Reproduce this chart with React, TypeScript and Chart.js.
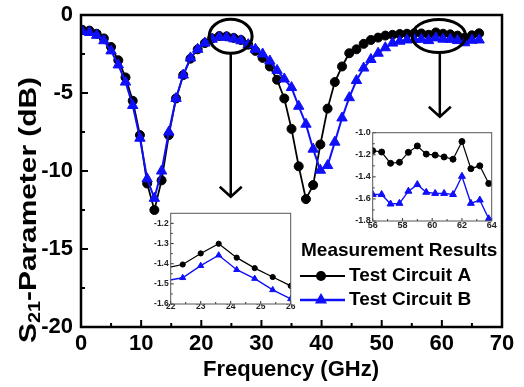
import React, { useEffect, useRef } from "react";
import { Chart, registerables } from "chart.js";
Chart.register(...registerables);

const FONT = '"Liberation Sans", Arial, sans-serif';
const BLUE = "rgb(15,15,250)";
const BLACK = "#000000";

// ---- main chart data ----
const freqGHz = [
  0.2, 1.4, 2.6, 3.8, 5.0, 6.2, 7.4, 8.6, 9.8, 11.0, 12.2, 13.4, 14.6, 15.8,
  17.0, 18.2, 19.4, 20.6, 21.8, 23.0, 24.2, 25.4, 26.6, 27.8, 29.0, 30.2, 31.4,
  32.6, 33.8, 35.0, 36.2, 37.4, 38.6, 39.8, 41.0, 42.2, 43.4, 44.6, 45.8, 47.0,
  48.2, 49.4, 50.6, 51.8, 53.0, 54.2, 55.4, 56.6, 57.8, 59.0, 60.2, 61.4, 62.6,
  63.8, 65.0, 66.2,
];
const circuitA = [
  -0.95, -1.0, -1.2, -1.5, -2.05, -2.9, -4.0, -5.5, -7.7, -10.8, -12.5, -10.6,
  -7.7, -5.35, -3.85, -2.8, -2.2, -1.8, -1.5, -1.35, -1.37, -1.47, -1.6, -1.9,
  -2.3, -2.75, -3.3, -4.15, -5.35, -7.3, -9.7, -11.8, -10.9, -8.3, -6.0, -4.3,
  -3.3, -2.45, -2.2, -1.85, -1.6, -1.45, -1.32, -1.27, -1.22, -1.2, -1.18,
  -1.18, -1.27, -1.12, -1.2, -1.24, -1.32, -1.46, -1.3, -1.17,
];
const circuitB = [
  -1.05, -1.12, -1.3, -1.65, -2.3, -3.2, -4.3, -5.8, -7.9, -10.5, -11.75, -10.0,
  -7.5, -5.35, -3.85, -2.75, -2.2, -1.8, -1.55, -1.41, -1.43, -1.53, -1.65, -1.9,
  -2.2, -2.5, -2.95, -3.55, -4.1, -4.65, -5.85, -7.0, -8.6, -9.95, -9.65, -8.15,
  -6.6, -5.3, -4.2, -3.4, -2.85, -2.45, -2.1, -1.8, -1.68, -1.6, -1.57, -1.56,
  -1.64, -1.47, -1.55, -1.56, -1.64, -1.78, -1.62, -1.6,
];
const xTicksMain = [0, 10, 20, 30, 40, 50, 60, 70];
const xMinorMain = [5, 15, 25, 35, 45, 55, 65];
const yTicksMain = [0, -5, -10, -15, -20];
const yMinorMain = [-2.5, -7.5, -12.5, -17.5];

// ---- inset 1 (22-26 GHz) ----
const inset1Freq = [21.8, 22.4, 23.0, 23.6, 24.2, 24.8, 25.4, 26.0];
const inset1A = [-1.422, -1.404, -1.349, -1.301, -1.37, -1.422, -1.466, -1.51];
const inset1B = [-1.485, -1.47, -1.41, -1.358, -1.43, -1.474, -1.53, -1.575];
const inset1XTicks = [22, 23, 24, 25, 26];
const inset1XMinor = [22.5, 23.5, 24.5, 25.5];
const inset1YTicks = [-1.2, -1.3, -1.4, -1.5, -1.6];
const inset1YMinor = [-1.25, -1.35, -1.45, -1.55];

// ---- inset 2 (56-64 GHz) ----
const inset2Freq = [56, 56.6, 57.2, 57.8, 58.4, 59.0, 59.6, 60.2, 60.8, 61.4, 62.0, 62.6, 63.2, 63.8];
const inset2A = [-1.163, -1.175, -1.277, -1.268, -1.178, -1.12, -1.194, -1.203, -1.22, -1.24, -1.08, -1.326, -1.3, -1.46];
const inset2B = [-1.56, -1.56, -1.646, -1.64, -1.53, -1.47, -1.54, -1.55, -1.55, -1.56, -1.395, -1.64, -1.61, -1.78];
const inset2XTicks = [56, 58, 60, 62, 64];
const inset2XMinor = [57, 59, 61, 63];
const inset2YTicks = [-1.0, -1.2, -1.4, -1.6, -1.8];
const inset2YMinor = [-1.1, -1.3, -1.5, -1.7];

const legendTitle = "Measurement Results";
const seriesNames = ["Test Circuit A", "Test Circuit B"];
const xTitle = "Frequency (GHz)";
const yTitleParts = ["S", "21", "-Parameter (dB)"];

const framePlugin = {
  id: "frame",
  beforeDatasetsDraw(chart: any, _a: any, o: any) {
    const { ctx, chartArea: a } = chart;
    if (o.fill) {
      ctx.save();
      ctx.fillStyle = o.fill;
      ctx.fillRect(a.left, a.top, a.right - a.left, a.bottom - a.top);
      ctx.restore();
    }
  },
  afterDatasetsDraw(chart: any, _a: any, o: any) {
    const { ctx, chartArea: a, scales } = chart;
    const xs = scales.x;
    const ys = scales.y;
    ctx.save();
    ctx.strokeStyle = o.tickColor;
    ctx.lineWidth = o.tickWidth;
    ctx.beginPath();
    const xt = (vals: number[], len: number) => {
      for (const v of vals) {
        const p = xs.getPixelForValue(v);
        ctx.moveTo(p, a.bottom);
        ctx.lineTo(p, a.bottom - len);
      }
    };
    const yt = (vals: number[], len: number) => {
      for (const v of vals) {
        const p = ys.getPixelForValue(v);
        ctx.moveTo(a.left, p);
        ctx.lineTo(a.left + len, p);
      }
    };
    xt(o.xMajor, o.majorLen);
    xt(o.xMinor, o.minorLen);
    yt(o.yMajor, o.majorLen);
    yt(o.yMinor, o.minorLen);
    ctx.stroke();
    ctx.lineWidth = o.borderWidth;
    ctx.strokeStyle = o.borderColor;
    ctx.strokeRect(a.left, a.top, a.right - a.left, a.bottom - a.top);
    ctx.restore();
  },
};

function drawMarker(ctx: any, kind: string, x: number, y: number, r: number, color: string) {
  ctx.fillStyle = color;
  ctx.beginPath();
  if (kind === "circle") {
    ctx.arc(x, y, r, 0, Math.PI * 2);
  } else {
    ctx.moveTo(x, y - r);
    ctx.lineTo(x + r * 0.866, y + r * 0.5);
    ctx.lineTo(x - r * 0.866, y + r * 0.5);
    ctx.closePath();
  }
  ctx.fill();
}

const decorPlugin = {
  id: "decor",
  afterDraw(chart: any) {
    const { ctx, scales } = chart;
    const xs = scales.x;
    const ys = scales.y;
    ctx.save();
    // zoom ellipses and arrows
    const zooms = [
      { cx: 24.88, cy: -1.365, w: 7.14, h: 2.18, ax: 24.9, tip: -11.65 },
      { cx: 59.5, cy: -1.346, w: 8.92, h: 2.13, ax: 59.66, tip: -6.52 },
    ];
    ctx.strokeStyle = "#000";
    for (const z of zooms) {
      const cx = xs.getPixelForValue(z.cx);
      const cy = ys.getPixelForValue(z.cy);
      const rx = Math.abs(xs.getPixelForValue(z.cx + z.w / 2) - cx);
      const ry = Math.abs(ys.getPixelForValue(z.cy + z.h / 2) - cy);
      ctx.lineWidth = 3;
      ctx.beginPath();
      ctx.ellipse(cx, cy, rx, ry, 0, 0, Math.PI * 2);
      ctx.stroke();
      const ax = xs.getPixelForValue(z.ax);
      const tip = ys.getPixelForValue(z.tip);
      ctx.lineWidth = 2.5;
      ctx.beginPath();
      ctx.moveTo(ax, cy + ry);
      ctx.lineTo(ax, tip);
      ctx.moveTo(ax - 11, tip - 10);
      ctx.lineTo(ax, tip);
      ctx.lineTo(ax + 11, tip - 10);
      ctx.stroke();
    }
    // axis titles
    ctx.fillStyle = "#000";
    ctx.font = `bold 22px ${FONT}`;
    ctx.textAlign = "center";
    ctx.textBaseline = "middle";
    ctx.fillText(xTitle, 291, 370);

    ctx.save();
    ctx.translate(27, 210);
    ctx.rotate(-Math.PI / 2);
    ctx.textAlign = "left";
    ctx.textBaseline = "alphabetic";
    const big = `bold 24px ${FONT}`;
    const small = `bold 16px ${FONT}`;
    ctx.font = big;
    const w0 = ctx.measureText(yTitleParts[0]).width;
    const w2 = ctx.measureText(yTitleParts[2]).width;
    ctx.font = small;
    const w1 = ctx.measureText(yTitleParts[1]).width;
    const total = w0 + w1 + w2;
    const s = 266 / total;
    ctx.scale(s, 1);
    let x = -total / 2;
    ctx.font = big;
    ctx.fillText(yTitleParts[0], x, 8.5);
    x += w0;
    ctx.font = small;
    ctx.fillText(yTitleParts[1], x, 13);
    x += w1;
    ctx.font = big;
    ctx.fillText(yTitleParts[2], x, 8.5);
    ctx.restore();

    // legend
    ctx.textAlign = "left";
    ctx.textBaseline = "middle";
    ctx.font = `bold 19px ${FONT}`;
    ctx.fillStyle = "#000";
    ctx.fillText(legendTitle, 301, 251);
    const entries = [
      { name: seriesNames[0], color: BLACK, kind: "circle", y: 276, r: 5, lw: 2 },
      { name: seriesNames[1], color: BLUE, kind: "triangle", y: 300, r: 7, lw: 2.5 },
    ];
    for (const e of entries) {
      ctx.strokeStyle = e.color;
      ctx.lineWidth = e.lw;
      ctx.beginPath();
      ctx.moveTo(300, e.y);
      ctx.lineTo(345, e.y);
      ctx.stroke();
      drawMarker(ctx, e.kind, 321, e.y, e.r, e.color);
      ctx.fillStyle = "#000";
      ctx.fillText(e.name, 349, e.y);
    }
    ctx.restore();
  },
};

function pts(xs: number[], ys: number[]) {
  return xs.map((x, i) => ({ x, y: ys[i] }));
}

function noPad(s: any) {
  s.paddingTop = 0;
  s.paddingBottom = 0;
  s.paddingLeft = 0;
  s.paddingRight = 0;
}

function axes(o: any) {
  return {
    x: {
      type: "linear",
      min: o.xMin,
      max: o.xMax,
      afterBuildTicks: (s: any) => {
        s.ticks = o.xTicks.map((v: number) => ({ value: v }));
      },
      grid: { display: false, drawTicks: false },
      border: { display: false },
      ticks: {
        font: { family: FONT, size: o.fontSize, weight: "bold", lineHeight: o.lineHeight },
        color: o.tickColor,
        padding: o.xPad,
        maxRotation: 0,
        autoSkip: false,
        callback: (v: any) => o.xFmt(v),
      },
      afterFit: (s: any) => {
        s.height = o.xHeight;
        noPad(s);
      },
    },
    y: {
      type: "linear",
      min: o.yMin,
      max: o.yMax,
      afterBuildTicks: (s: any) => {
        s.ticks = o.yTicks.map((v: number) => ({ value: v }));
      },
      grid: { display: false, drawTicks: false },
      border: { display: false },
      ticks: {
        font: { family: FONT, size: o.fontSize, weight: "bold", lineHeight: o.lineHeight },
        color: o.tickColor,
        padding: o.yPad,
        autoSkip: false,
        callback: (v: any) => o.yFmt(v),
      },
      afterFit: (s: any) => {
        s.width = o.yWidth;
        noPad(s);
      },
    },
  };
}

export default function App() {
  const mainRef = useRef<HTMLCanvasElement>(null);
  const in1Ref = useRef<HTMLCanvasElement>(null);
  const in2Ref = useRef<HTMLCanvasElement>(null);

  useEffect(() => {
    const charts: Chart[] = [];
    const main = new Chart(mainRef.current as HTMLCanvasElement, {
      type: "line",
      data: {
        datasets: [
          {
            label: seriesNames[1],
            data: pts(freqGHz, circuitB),
            borderColor: BLUE,
            backgroundColor: BLUE,
            borderWidth: 2,
            pointStyle: "triangle",
            pointRadius: 6,
            pointBorderWidth: 1,
            order: 0,
          },
          {
            label: seriesNames[0],
            data: pts(freqGHz, circuitA),
            borderColor: BLACK,
            backgroundColor: BLACK,
            borderWidth: 1.8,
            pointStyle: "circle",
            pointRadius: 4.5,
            pointBorderWidth: 1,
            order: 1,
          },
        ],
      } as any,
      options: {
        responsive: false,
        animation: false,
        devicePixelRatio: 1,
        layout: { padding: { left: 0, right: 22, top: 15, bottom: 0 } },
        plugins: {
          legend: { display: false },
          tooltip: { enabled: false },
          frame: {
            tickColor: "#000",
            tickWidth: 2,
            majorLen: 7,
            minorLen: 4,
            borderColor: "#000",
            borderWidth: 2.5,
            xMajor: xTicksMain,
            xMinor: xMinorMain,
            yMajor: yTicksMain,
            yMinor: yMinorMain,
          },
        } as any,
        scales: axes({
          xMin: 0, xMax: 70, yMin: -20, yMax: 0,
          xTicks: xTicksMain, yTicks: yTicksMain,
          fontSize: 22, lineHeight: 1.2, tickColor: "#000",
          xPad: 4, yPad: 8, xHeight: 60, yWidth: 81,
          xFmt: (v: number) => String(v), yFmt: (v: number) => String(v),
        }) as any,
      },
      plugins: [framePlugin, decorPlugin],
    });
    charts.push(main);

    const makeInset = (canvas: HTMLCanvasElement, cfg: any) =>
      new Chart(canvas, {
        type: "line",
        data: {
          datasets: [
            {
              data: pts(cfg.freq, cfg.b),
              borderColor: BLUE,
              backgroundColor: BLUE,
              borderWidth: 1.4,
              pointStyle: "triangle",
              pointRadius: cfg.triR,
              pointBorderWidth: 1,
              order: 0,
            },
            {
              data: pts(cfg.freq, cfg.a),
              borderColor: BLACK,
              backgroundColor: BLACK,
              borderWidth: 1.2,
              pointStyle: "circle",
              pointRadius: cfg.dotR,
              pointBorderWidth: 1,
              order: 1,
            },
          ],
        } as any,
        options: {
          responsive: false,
          animation: false,
          devicePixelRatio: 1,
          layout: { padding: cfg.padding },
          plugins: {
            legend: { display: false },
            tooltip: { enabled: false },
            frame: {
              fill: "#ffffff",
              tickColor: "#333",
              tickWidth: 1,
              majorLen: 3,
              minorLen: 2,
              borderColor: "#555",
              borderWidth: 1,
              xMajor: cfg.xTicks,
              xMinor: cfg.xMinor,
              yMajor: cfg.yTicks,
              yMinor: cfg.yMinor,
            },
          } as any,
          scales: axes({
            xMin: cfg.xMin, xMax: cfg.xMax, yMin: cfg.yMin, yMax: cfg.yMax,
            xTicks: cfg.xTicks, yTicks: cfg.yTicks,
            fontSize: cfg.fontSize, lineHeight: 1, tickColor: "#222",
            xPad: cfg.xPad, yPad: 2, xHeight: cfg.xHeight, yWidth: cfg.yWidth,
            xFmt: (v: number) => String(v), yFmt: (v: number) => v.toFixed(1),
          }) as any,
        },
        plugins: [framePlugin],
      });

    charts.push(
      makeInset(in1Ref.current as HTMLCanvasElement, {
        freq: inset1Freq, a: inset1A, b: inset1B,
        xMin: 22, xMax: 26, yMin: -1.6, yMax: -1.15,
        xTicks: inset1XTicks, xMinor: inset1XMinor, yTicks: inset1YTicks, yMinor: inset1YMinor,
        fontSize: 8.5, xPad: -2, xHeight: 13, yWidth: 30.7,
        padding: { left: 0, right: 9.3, top: 8.3, bottom: 0 },
        triR: 3.5, dotR: 2.6,
      })
    );
    charts.push(
      makeInset(in2Ref.current as HTMLCanvasElement, {
        freq: inset2Freq, a: inset2A, b: inset2B,
        xMin: 56, xMax: 64, yMin: -1.8, yMax: -1.0,
        xTicks: inset2XTicks, xMinor: inset2XMinor, yTicks: inset2YTicks, yMinor: inset2YMinor,
        fontSize: 9, xPad: 0, xHeight: 13, yWidth: 27.7,
        padding: { left: 0, right: 8.3, top: 8.7, bottom: 0 },
        triR: 4, dotR: 3,
      })
    );

    return () => {
      charts.forEach((c) => c.destroy());
    };
  }, []);

  return (
    <div style={{ position: "fixed", left: 0, top: 0, width: 524, height: 387, background: "#fff" }}>
      <canvas
        ref={mainRef}
        width={524}
        height={387}
        style={{ position: "absolute", left: 0, top: 0, width: 524, height: 387 }}
      />
      <canvas
        ref={in1Ref}
        width={160}
        height={112}
        style={{ position: "absolute", left: 140, top: 205, width: 160, height: 112 }}
      />
      <canvas
        ref={in2Ref}
        width={155}
        height={110}
        style={{ position: "absolute", left: 345, top: 124, width: 155, height: 110 }}
      />
    </div>
  );
}
